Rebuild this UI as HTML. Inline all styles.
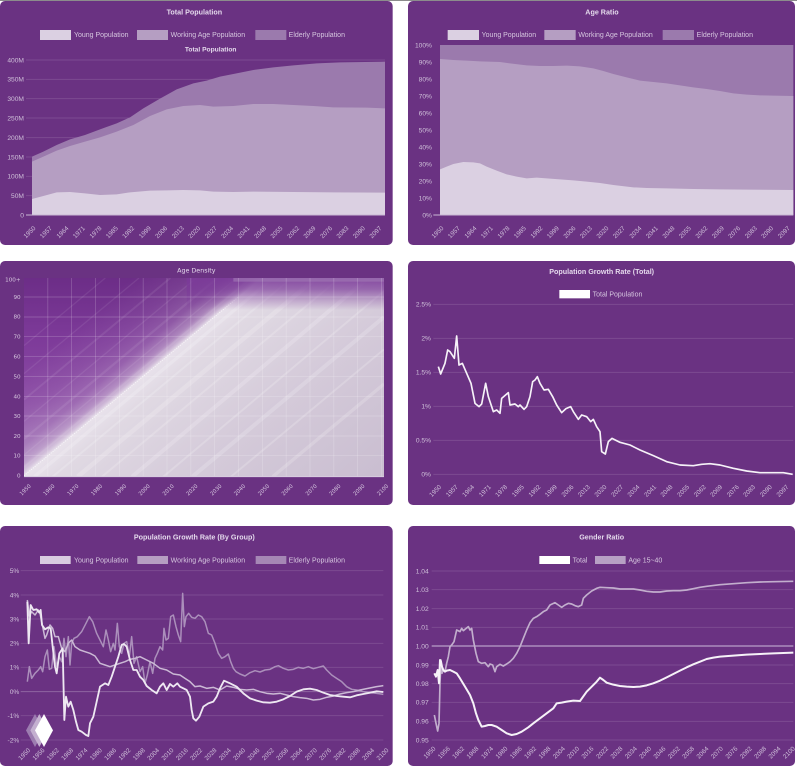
<!DOCTYPE html>
<html><head><meta charset="utf-8"><style>
html,body{margin:0;padding:0;background:#fff;width:800px;height:770px;overflow:hidden}
svg{display:block}
</style></head><body>
<svg width="800" height="770" viewBox="0 0 800 770" xmlns="http://www.w3.org/2000/svg" font-family="Liberation Sans, Arial, sans-serif">
<defs>
<linearGradient id="g3v" gradientUnits="userSpaceOnUse" x1="0" y1="84" x2="0" y2="680">
<stop offset="0" stop-color="#6c2d87"/><stop offset="0.3" stop-color="#7d3a99"/><stop offset="0.6" stop-color="#8a4aa4"/><stop offset="1" stop-color="#a274b8"/>
</linearGradient>
<linearGradient id="g3d" gradientUnits="userSpaceOnUse" x1="-312" y1="216" x2="584" y2="1292">
<stop offset="0" stop-color="#e8e2ea" stop-opacity="0"/>
<stop offset="0.25" stop-color="#e8e2ea" stop-opacity="0"/>
<stop offset="0.3286" stop-color="#e8e2ea" stop-opacity="0.08"/>
<stop offset="0.3786" stop-color="#e8e2ea" stop-opacity="0.2"/>
<stop offset="0.4071" stop-color="#e8e2ea" stop-opacity="0.45"/>
<stop offset="0.4214" stop-color="#eae5ec" stop-opacity="0.75"/>
<stop offset="0.4286" stop-color="#ebe6ed" stop-opacity="0.97"/>
<stop offset="0.4714" stop-color="#e0d9e3" stop-opacity="1"/>
<stop offset="0.6429" stop-color="#d5cbda" stop-opacity="1"/>
<stop offset="0.9286" stop-color="#c9bdd0" stop-opacity="1"/>
<stop offset="1" stop-color="#c6b9ce" stop-opacity="1"/>
</linearGradient>
<linearGradient id="g3t" gradientUnits="userSpaceOnUse" x1="0" y1="84" x2="0" y2="180">
<stop offset="0" stop-color="#7b3a99" stop-opacity="0.9"/>
<stop offset="0.35" stop-color="#7b3a99" stop-opacity="0.7"/>
<stop offset="0.7" stop-color="#7b3a99" stop-opacity="0.3"/>
<stop offset="1" stop-color="#7b3a99" stop-opacity="0"/>
</linearGradient>
<clipPath id="c3"><rect x="72" y="84" width="1080" height="596"/></clipPath>
</defs>
<rect width="800" height="770" fill="#ffffff"/>
<line x1="0" y1="0.5" x2="797" y2="0.5" stroke="#8c8c8c" stroke-width="1"/>

<!-- PANEL 1 -->
<g transform="translate(0,0) scale(0.333333)">
<rect x="0" y="3" width="1178" height="732" rx="15" fill="#6a3282"/>
<text x="583" y="43" text-anchor="middle" font-weight="bold" font-size="21.5" fill="#e4d9ec">Total Population</text>
<rect x="120" y="90" width="93" height="30" fill="#dbd0e2"/>
<rect x="411" y="90" width="93" height="30" fill="#b59ec2"/>
<rect x="766" y="90" width="93" height="30" fill="#9b7aad"/>
<g font-size="21" fill="#d6c6df">
<text x="222" y="111">Young Population</text>
<text x="512" y="111">Working Age Population</text>
<text x="866" y="111">Elderly Population</text>
</g>
<text x="632" y="155" text-anchor="middle" font-weight="bold" font-size="20" fill="#e4d9ec">Total Population</text>
<g stroke="#ffffff" stroke-opacity="0.12" stroke-width="3">
<line x1="78" y1="180" x2="1155" y2="180"/><line x1="78" y1="238" x2="1155" y2="238"/><line x1="78" y1="296" x2="1155" y2="296"/><line x1="78" y1="354" x2="1155" y2="354"/><line x1="78" y1="413" x2="1155" y2="413"/><line x1="78" y1="471" x2="1155" y2="471"/><line x1="78" y1="529" x2="1155" y2="529"/><line x1="78" y1="587" x2="1155" y2="587"/>
</g>
<polygon fill="#9b7aad" points="96,470 130,455 170,435 210,418 255,405 300,388 350,370 390,352 430,325 480,296 530,268 580,250 620,242 660,230 700,222 760,210 820,202 880,196 950,190 1020,187 1155,185 1155,645 96,645"/>
<polygon fill="#b59ec2" points="96,485 130,470 170,452 210,438 255,425 300,412 350,395 400,375 450,348 500,328 550,318 600,315 640,320 700,318 760,312 820,312 880,315 940,318 1000,322 1100,323 1155,325 1155,645 96,645"/>
<polygon fill="#dbd0e2" points="96,597 130,588 170,577 210,576 255,580 300,585 350,583 390,577 450,572 500,571 550,570 600,571 640,575 700,576 760,575 880,576 1000,577 1155,578 1155,645 96,645"/>
<line x1="78" y1="645" x2="1155" y2="645" stroke="#c9b8d4" stroke-width="3"/>
<g font-size="20" fill="#cfbfd9" text-anchor="end">
<text x="72" y="187">400M</text><text x="72" y="245">350M</text><text x="72" y="303">300M</text><text x="72" y="361">250M</text><text x="72" y="420">200M</text><text x="72" y="478">150M</text><text x="72" y="536">100M</text><text x="72" y="594">50M</text><text x="72" y="652">0</text>
</g>
<g font-size="19" fill="#cfbfd9" text-anchor="end">
<text transform="translate(108,686) rotate(-45)">1950</text><text transform="translate(157,686) rotate(-45)">1957</text><text transform="translate(207,686) rotate(-45)">1964</text><text transform="translate(256,686) rotate(-45)">1971</text><text transform="translate(306,686) rotate(-45)">1978</text><text transform="translate(355,686) rotate(-45)">1985</text><text transform="translate(404,686) rotate(-45)">1992</text><text transform="translate(454,686) rotate(-45)">1999</text><text transform="translate(503,686) rotate(-45)">2006</text><text transform="translate(553,686) rotate(-45)">2013</text><text transform="translate(602,686) rotate(-45)">2020</text><text transform="translate(652,686) rotate(-45)">2027</text><text transform="translate(701,686) rotate(-45)">2034</text><text transform="translate(750,686) rotate(-45)">2041</text><text transform="translate(800,686) rotate(-45)">2048</text><text transform="translate(849,686) rotate(-45)">2055</text><text transform="translate(899,686) rotate(-45)">2062</text><text transform="translate(948,686) rotate(-45)">2069</text><text transform="translate(998,686) rotate(-45)">2076</text><text transform="translate(1047,686) rotate(-45)">2083</text><text transform="translate(1096,686) rotate(-45)">2090</text><text transform="translate(1146,686) rotate(-45)">2097</text>
</g>
</g>

<!-- PANEL 2 -->
<g transform="translate(400,0) scale(0.333333)">
<rect x="24" y="3" width="1161" height="732" rx="15" fill="#6a3282"/>
<text x="606" y="43" text-anchor="middle" font-weight="bold" font-size="21.5" fill="#e4d9ec">Age Ratio</text>
<rect x="143" y="90" width="94" height="30" fill="#dbd0e2"/>
<rect x="433" y="90" width="94" height="30" fill="#b59ec2"/>
<rect x="788" y="90" width="94" height="30" fill="#9b7aad"/>
<g font-size="21" fill="#d6c6df">
<text x="245" y="111">Young Population</text>
<text x="535" y="111">Working Age Population</text>
<text x="890" y="111">Elderly Population</text>
</g>
<rect x="120" y="135" width="1060" height="510" fill="#9b7aad"/>
<polygon fill="#b59ec2" points="120,177 160,180 200,182 240,184 300,186 330,190 380,196 420,198 460,198 500,197 540,199 580,205 610,213 640,222 680,232 720,242 760,246 800,250 840,256 880,262 920,267 960,273 1000,280 1040,284 1080,286 1120,287 1180,288 1180,645 120,645"/>
<polygon fill="#dbd0e2" points="120,508 140,500 160,492 190,486 220,487 240,490 260,500 290,512 320,523 350,530 380,535 410,533 440,535 480,538 520,541 560,545 600,549 640,555 700,562 740,564 800,565 880,567 960,568 1040,569 1180,570 1180,645 120,645"/>
<line x1="100" y1="645" x2="1180" y2="645" stroke="#c9b8d4" stroke-width="3"/>
<g font-size="20" fill="#cfbfd9" text-anchor="end">
<text x="96" y="142">100%</text><text x="96" y="193">90%</text><text x="96" y="244">80%</text><text x="96" y="295">70%</text><text x="96" y="346">60%</text><text x="96" y="397">50%</text><text x="96" y="448">40%</text><text x="96" y="499">30%</text><text x="96" y="550">20%</text><text x="96" y="601">10%</text><text x="96" y="652">0%</text>
</g>
<g font-size="19" fill="#cfbfd9" text-anchor="end">
<text transform="translate(132,686) rotate(-45)">1950</text><text transform="translate(181,686) rotate(-45)">1957</text><text transform="translate(231,686) rotate(-45)">1964</text><text transform="translate(280,686) rotate(-45)">1971</text><text transform="translate(330,686) rotate(-45)">1978</text><text transform="translate(379,686) rotate(-45)">1985</text><text transform="translate(429,686) rotate(-45)">1992</text><text transform="translate(478,686) rotate(-45)">1999</text><text transform="translate(528,686) rotate(-45)">2006</text><text transform="translate(577,686) rotate(-45)">2013</text><text transform="translate(627,686) rotate(-45)">2020</text><text transform="translate(676,686) rotate(-45)">2027</text><text transform="translate(726,686) rotate(-45)">2034</text><text transform="translate(775,686) rotate(-45)">2041</text><text transform="translate(825,686) rotate(-45)">2048</text><text transform="translate(874,686) rotate(-45)">2055</text><text transform="translate(924,686) rotate(-45)">2062</text><text transform="translate(973,686) rotate(-45)">2069</text><text transform="translate(1022,686) rotate(-45)">2076</text><text transform="translate(1072,686) rotate(-45)">2083</text><text transform="translate(1121,686) rotate(-45)">2090</text><text transform="translate(1171,686) rotate(-45)">2097</text>
</g>
</g>

<!-- PANEL 3 -->
<g transform="translate(0,250) scale(0.333333)">
<rect x="0" y="33" width="1178" height="732" rx="15" fill="#6a3282"/>
<text x="589" y="68" text-anchor="middle" font-family="DejaVu Sans, sans-serif" font-size="19" fill="#e4d9ec">Age Density</text>
<g clip-path="url(#c3)">
<rect x="72" y="84" width="1080" height="596" fill="url(#g3v)"/>
<rect x="72" y="84" width="1080" height="596" fill="url(#g3d)"/>
<g stroke="#ffffff" stroke-opacity="0.08">
<line x1="72" y1="651" x2="753" y2="84" stroke-width="6"/>
<line x1="72" y1="615" x2="710" y2="84" stroke-width="4"/>
<line x1="72" y1="567" x2="652" y2="84" stroke-width="7"/>
<line x1="72" y1="514" x2="589" y2="84" stroke-width="4"/>
<line x1="72" y1="449" x2="511" y2="84" stroke-width="6"/>
<line x1="72" y1="371" x2="417" y2="84" stroke-width="4"/>
<line x1="72" y1="287" x2="316" y2="84" stroke-width="4"/>
</g>
<g stroke="#ffffff" stroke-opacity="0.18">
<line x1="103" y1="680" x2="819" y2="84" stroke-width="10"/>
<line x1="158" y1="680" x2="875" y2="84" stroke-width="6"/>
<line x1="233" y1="680" x2="949" y2="84" stroke-width="14"/>
<line x1="306" y1="680" x2="1019" y2="84" stroke-width="6"/>
<line x1="396" y1="680" x2="1105" y2="84" stroke-width="12"/>
<line x1="490" y1="680" x2="1152" y2="123" stroke-width="6"/>
<line x1="577" y1="680" x2="1152" y2="201" stroke-width="12"/>
<line x1="693" y1="680" x2="1152" y2="298" stroke-width="6"/>
<line x1="818" y1="680" x2="1152" y2="402" stroke-width="10"/>
</g>
<line x1="72" y1="677" x2="715" y2="141" stroke="#ffffff" stroke-opacity="0.75" stroke-width="3" stroke-dasharray="3 4"/>
<rect x="560" y="84" width="592" height="96" fill="url(#g3t)"/>
<rect x="700" y="84" width="452" height="11" fill="#a27bb6" fill-opacity="0.6"/>
</g>
<g stroke="#ffffff" stroke-opacity="0.25" stroke-width="2">
<line x1="143.5" y1="84" x2="143.5" y2="680"/><line x1="215" y1="84" x2="215" y2="680"/><line x1="286.5" y1="84" x2="286.5" y2="680"/><line x1="358" y1="84" x2="358" y2="680"/><line x1="429.5" y1="84" x2="429.5" y2="680"/><line x1="501" y1="84" x2="501" y2="680"/><line x1="572.5" y1="84" x2="572.5" y2="680"/><line x1="644" y1="84" x2="644" y2="680"/><line x1="715.5" y1="84" x2="715.5" y2="680"/><line x1="787" y1="84" x2="787" y2="680"/><line x1="858.5" y1="84" x2="858.5" y2="680"/><line x1="930" y1="84" x2="930" y2="680"/><line x1="1001.5" y1="84" x2="1001.5" y2="680"/><line x1="1073" y1="84" x2="1073" y2="680"/><line x1="1144.5" y1="84" x2="1144.5" y2="680"/>
<line x1="72" y1="617" x2="1152" y2="617"/><line x1="72" y1="558" x2="1152" y2="558"/><line x1="72" y1="498" x2="1152" y2="498"/><line x1="72" y1="439" x2="1152" y2="439"/><line x1="72" y1="379" x2="1152" y2="379"/><line x1="72" y1="320" x2="1152" y2="320"/><line x1="72" y1="260" x2="1152" y2="260"/><line x1="72" y1="201" x2="1152" y2="201"/><line x1="72" y1="141" x2="1152" y2="141"/>
</g>
<line x1="72" y1="680" x2="1152" y2="680" stroke="#d8cce0" stroke-width="3"/>
<g font-family="DejaVu Sans, sans-serif" font-size="17" fill="#d6c6df" text-anchor="end">
<text x="62" y="94">100+</text><text x="62" y="147">90</text><text x="62" y="206">80</text><text x="62" y="266">70</text><text x="62" y="326">60</text><text x="62" y="385">50</text><text x="62" y="445">40</text><text x="62" y="504">30</text><text x="62" y="564">20</text><text x="62" y="623">10</text><text x="62" y="683">0</text>
</g>
<g font-family="DejaVu Sans, sans-serif" font-size="16" fill="#d6c6df" text-anchor="end">
<text transform="translate(94,709) rotate(-45)">1950</text><text transform="translate(165,709) rotate(-45)">1960</text><text transform="translate(237,709) rotate(-45)">1970</text><text transform="translate(308,709) rotate(-45)">1980</text><text transform="translate(380,709) rotate(-45)">1990</text><text transform="translate(451,709) rotate(-45)">2000</text><text transform="translate(523,709) rotate(-45)">2010</text><text transform="translate(594,709) rotate(-45)">2020</text><text transform="translate(666,709) rotate(-45)">2030</text><text transform="translate(737,709) rotate(-45)">2040</text><text transform="translate(809,709) rotate(-45)">2050</text><text transform="translate(880,709) rotate(-45)">2060</text><text transform="translate(952,709) rotate(-45)">2070</text><text transform="translate(1023,709) rotate(-45)">2080</text><text transform="translate(1095,709) rotate(-45)">2090</text><text transform="translate(1166,709) rotate(-45)">2100</text>
</g>
</g>

<!-- PANEL 4 -->
<g transform="translate(400,250) scale(0.333333)">
<rect x="24" y="33" width="1161" height="732" rx="15" fill="#6a3282"/>
<text x="605" y="72" text-anchor="middle" font-weight="bold" font-size="21.5" fill="#e4d9ec">Population Growth Rate (Total)</text>
<rect x="478" y="120" width="92" height="25" fill="#ffffff"/>
<text x="578" y="140" font-size="21" fill="#d6c6df">Total Population</text>
<g stroke="#ffffff" stroke-opacity="0.12" stroke-width="3">
<line x1="100" y1="163" x2="1180" y2="163"/><line x1="100" y1="265" x2="1180" y2="265"/><line x1="100" y1="367" x2="1180" y2="367"/><line x1="100" y1="469" x2="1180" y2="469"/><line x1="100" y1="571" x2="1180" y2="571"/><line x1="100" y1="673" x2="1180" y2="673"/>
</g>
<g font-size="20" fill="#cfbfd9" text-anchor="end">
<text x="93" y="170">2.5%</text><text x="93" y="272">2%</text><text x="93" y="374">1.5%</text><text x="93" y="476">1%</text><text x="93" y="578">0.5%</text><text x="93" y="680">0%</text>
</g>
<polyline fill="none" stroke="#f6f2f8" stroke-width="5" stroke-linejoin="round" points="115,350 122,372 135,340 143,300 150,305 163,325 170,258 177,345 187,340 200,370 213,400 225,460 237,470 245,462 257,400 265,440 280,485 290,480 300,490 305,445 325,428 330,465 345,462 355,470 360,465 372,478 380,470 390,440 398,395 405,390 412,380 420,400 432,420 445,418 458,440 470,465 485,488 498,476 512,470 520,485 535,508 545,495 560,500 572,515 580,508 590,530 600,545 605,605 616,612 625,575 636,565 660,577 690,585 720,600 760,617 800,635 840,645 880,647 905,643 930,641 960,645 1000,655 1040,663 1080,668 1150,668 1178,673"/>
<g font-size="19" fill="#cfbfd9" text-anchor="end">
<text transform="translate(125,712) rotate(-45)">1950</text><text transform="translate(175,712) rotate(-45)">1957</text><text transform="translate(224,712) rotate(-45)">1964</text><text transform="translate(274,712) rotate(-45)">1971</text><text transform="translate(323,712) rotate(-45)">1978</text><text transform="translate(373,712) rotate(-45)">1985</text><text transform="translate(423,712) rotate(-45)">1992</text><text transform="translate(472,712) rotate(-45)">1999</text><text transform="translate(522,712) rotate(-45)">2006</text><text transform="translate(571,712) rotate(-45)">2013</text><text transform="translate(621,712) rotate(-45)">2020</text><text transform="translate(671,712) rotate(-45)">2027</text><text transform="translate(720,712) rotate(-45)">2034</text><text transform="translate(770,712) rotate(-45)">2041</text><text transform="translate(819,712) rotate(-45)">2048</text><text transform="translate(869,712) rotate(-45)">2055</text><text transform="translate(919,712) rotate(-45)">2062</text><text transform="translate(968,712) rotate(-45)">2069</text><text transform="translate(1018,712) rotate(-45)">2076</text><text transform="translate(1067,712) rotate(-45)">2083</text><text transform="translate(1117,712) rotate(-45)">2090</text><text transform="translate(1167,712) rotate(-45)">2097</text>
</g>
</g>

<!-- PANEL 5 -->
<g transform="translate(0,510) scale(0.333333)">
<rect x="0" y="48" width="1178" height="720" rx="15" fill="#6a3282"/>
<text x="583" y="88" text-anchor="middle" font-weight="bold" font-size="21.5" fill="#e4d9ec">Population Growth Rate (By Group)</text>
<rect x="120" y="138" width="92" height="24" fill="#d9cce0"/>
<rect x="412" y="138" width="92" height="24" fill="#b69ec2"/>
<rect x="767" y="138" width="92" height="24" fill="#a587b5"/>
<g font-size="21" fill="#d6c6df">
<text x="222" y="157">Young Population</text>
<text x="512" y="157">Working Age Population</text>
<text x="866" y="157">Elderly Population</text>
</g>
<g stroke="#ffffff" stroke-opacity="0.12" stroke-width="3">
<line x1="62" y1="182" x2="1150" y2="182"/><line x1="62" y1="255" x2="1150" y2="255"/><line x1="62" y1="327" x2="1150" y2="327"/><line x1="62" y1="400" x2="1150" y2="400"/><line x1="62" y1="472" x2="1150" y2="472"/><line x1="62" y1="617" x2="1150" y2="617"/><line x1="62" y1="690" x2="1150" y2="690"/>
</g>
<line x1="62" y1="545" x2="1150" y2="545" stroke="#ffffff" stroke-opacity="0.25" stroke-width="3"/>
<g font-size="20" fill="#cfbfd9" text-anchor="end">
<text x="58" y="189">5%</text><text x="58" y="262">4%</text><text x="58" y="334">3%</text><text x="58" y="407">2%</text><text x="58" y="479">1%</text><text x="58" y="552">0%</text><text x="58" y="624">-1%</text><text x="58" y="697">-2%</text>
</g>
<polyline fill="none" stroke="#ab8fbb" stroke-width="4.5" stroke-linejoin="round" points="82,515 88,470 95,505 105,490 115,480 122,470 128,485 135,440 142,420 148,478 155,475 162,410 170,470 178,440 185,455 192,385 198,440 205,380 210,465 215,400 222,385 232,380 245,365 258,340 268,320 278,335 290,370 300,390 310,410 318,360 325,390 332,425 340,400 345,420 352,340 358,410 365,430 372,400 380,395 388,440 395,380 402,460 410,440 420,485 428,470 435,520 442,495 450,455 458,490 465,445 472,430 480,410 488,420 492,355 498,390 505,385 512,320 520,315 528,350 535,375 542,395 548,250 553,350 558,320 566,310 575,322 585,325 595,315 605,320 615,335 625,370 635,375 645,400 655,430 665,445 675,440 685,432 692,455 700,475 708,485 720,492 735,498 750,488 765,482 780,486 795,480 810,478 825,470 835,467 850,475 865,480 880,478 895,472 910,475 925,470 940,476 955,472 970,468 980,480 995,495 1010,505 1025,515 1040,530 1055,538 1070,540 1090,545 1110,548 1130,550 1150,553"/>
<polyline fill="none" stroke="#cbb9d5" stroke-width="4.5" stroke-linejoin="round" points="82,270 88,318 95,305 105,315 115,300 120,310 128,350 135,385 140,375 150,345 158,355 165,380 175,380 185,415 195,425 205,400 215,390 225,410 240,420 255,425 270,430 285,438 300,460 315,465 330,470 345,465 360,460 375,455 390,448 405,445 420,440 440,450 460,460 480,475 500,480 520,492 540,495 555,505 570,515 585,530 600,528 620,535 640,532 660,540 680,528 700,532 720,538 740,540 760,538 780,545 800,550 820,552 840,550 860,555 880,560 900,563 920,565 940,570 960,568 980,562 1000,558 1020,552 1040,548 1060,545 1080,540 1100,536 1130,530 1150,527"/>
<polyline fill="none" stroke="#eee8f2" stroke-width="5.5" stroke-linejoin="round" points="82,275 86,400 92,285 100,300 110,298 118,308 122,300 126,345 135,358 145,352 152,355 158,410 165,470 170,490 178,430 188,415 193,630 198,560 205,590 212,575 220,600 228,635 235,660 245,665 258,675 265,678 270,640 280,620 290,575 300,530 315,520 325,525 335,500 345,470 355,440 365,405 372,402 380,410 390,450 400,480 410,480 420,500 430,510 440,528 455,540 470,550 480,530 490,520 500,540 510,522 520,530 532,520 540,530 550,535 560,540 570,560 575,600 580,625 588,632 598,620 610,590 625,580 640,575 650,560 660,535 672,512 690,520 710,530 730,550 750,565 770,572 790,577 810,578 830,575 850,568 870,558 890,545 910,538 930,536 950,540 970,548 990,555 1010,558 1030,560 1050,562 1070,556 1090,552 1110,548 1130,544 1150,546"/>
<polygon points="105,612 132,661 105,711 78,661" fill="#9c7cb0"/>
<polygon points="118,612 145,661 118,711 91,661" fill="#c4b0d0"/>
<polygon points="132,612 159,661 132,711 105,661" fill="#ffffff"/>
<g font-size="19" fill="#cfbfd9" text-anchor="end">
<text transform="translate(92,722) rotate(-45)">1950</text><text transform="translate(135,722) rotate(-45)">1956</text><text transform="translate(178,722) rotate(-45)">1962</text><text transform="translate(221,722) rotate(-45)">1968</text><text transform="translate(264,722) rotate(-45)">1974</text><text transform="translate(307,722) rotate(-45)">1980</text><text transform="translate(350,722) rotate(-45)">1986</text><text transform="translate(393,722) rotate(-45)">1992</text><text transform="translate(436,722) rotate(-45)">1998</text><text transform="translate(479,722) rotate(-45)">2004</text><text transform="translate(522,722) rotate(-45)">2010</text><text transform="translate(565,722) rotate(-45)">2016</text><text transform="translate(608,722) rotate(-45)">2022</text><text transform="translate(651,722) rotate(-45)">2028</text><text transform="translate(694,722) rotate(-45)">2034</text><text transform="translate(737,722) rotate(-45)">2040</text><text transform="translate(780,722) rotate(-45)">2046</text><text transform="translate(823,722) rotate(-45)">2052</text><text transform="translate(866,722) rotate(-45)">2058</text><text transform="translate(909,722) rotate(-45)">2064</text><text transform="translate(952,722) rotate(-45)">2070</text><text transform="translate(995,722) rotate(-45)">2076</text><text transform="translate(1038,722) rotate(-45)">2082</text><text transform="translate(1081,722) rotate(-45)">2088</text><text transform="translate(1124,722) rotate(-45)">2094</text><text transform="translate(1167,722) rotate(-45)">2100</text>
</g>
</g>

<!-- PANEL 6 -->
<g transform="translate(400,510) scale(0.333333)">
<rect x="24" y="48" width="1161" height="720" rx="15" fill="#6a3282"/>
<text x="605" y="88" text-anchor="middle" font-weight="bold" font-size="21.5" fill="#e4d9ec">Gender Ratio</text>
<rect x="418" y="138" width="92" height="24" fill="#ffffff"/>
<rect x="585" y="138" width="92" height="24" fill="#b7a0c4"/>
<g font-size="21" fill="#d6c6df">
<text x="518" y="157">Total</text>
<text x="685" y="157">Age 15~40</text>
</g>
<g stroke="#ffffff" stroke-opacity="0.12" stroke-width="3">
<line x1="95" y1="183" x2="1180" y2="183"/><line x1="95" y1="239" x2="1180" y2="239"/><line x1="95" y1="296" x2="1180" y2="296"/><line x1="95" y1="352" x2="1180" y2="352"/><line x1="95" y1="465" x2="1180" y2="465"/><line x1="95" y1="521" x2="1180" y2="521"/><line x1="95" y1="577" x2="1180" y2="577"/><line x1="95" y1="634" x2="1180" y2="634"/><line x1="95" y1="690" x2="1180" y2="690"/>
</g>
<line x1="95" y1="408" x2="1180" y2="408" stroke="#b9a0c8" stroke-width="3.5"/>
<g font-size="20" fill="#cfbfd9" text-anchor="end">
<text x="86" y="190">1.04</text><text x="86" y="246">1.03</text><text x="86" y="303">1.02</text><text x="86" y="359">1.01</text><text x="86" y="415">1.00</text><text x="86" y="472">0.99</text><text x="86" y="528">0.98</text><text x="86" y="584">0.97</text><text x="86" y="641">0.96</text><text x="86" y="697">0.95</text>
</g>
<polyline fill="none" stroke="#c2aecd" stroke-width="5" stroke-linejoin="round" points="103,615 108,640 113,663 117,640 120,520 123,450 126,490 130,480 135,485 140,460 145,440 150,410 155,405 162,395 170,360 180,365 185,355 190,362 195,358 205,350 210,360 215,355 220,390 228,430 235,455 245,460 255,458 265,470 270,462 278,465 285,485 290,470 300,463 310,468 320,462 330,455 340,445 350,430 360,410 370,385 380,360 390,338 400,325 410,320 420,313 430,305 440,300 450,285 465,278 475,285 485,292 495,285 505,280 515,282 525,287 535,290 545,285 550,265 560,255 575,243 590,235 600,232 620,233 640,234 660,237 680,237 700,237 720,240 740,244 760,246 780,246 800,243 820,242 840,242 860,240 880,236 900,232 920,229 960,224 1000,221 1040,218 1080,216 1120,215 1180,214"/>
<polyline fill="none" stroke="#f6f2f8" stroke-width="6" stroke-linejoin="round" points="103,490 108,500 113,480 117,520 120,450 123,455 126,470 130,480 135,485 140,482 150,480 160,485 170,490 180,505 195,530 210,555 220,580 228,610 235,630 245,650 255,648 265,645 275,645 290,650 305,660 320,670 335,675 350,672 365,665 385,652 400,640 420,625 440,610 460,595 470,580 485,578 500,575 520,572 540,573 560,545 575,530 590,515 600,503 610,510 620,518 640,524 660,528 680,530 700,531 720,530 740,526 760,520 780,512 800,502 820,492 840,482 860,472 880,463 900,455 920,447 940,443 960,440 1000,437 1040,434 1080,432 1120,430 1180,428"/>
<g font-size="19" fill="#cfbfd9" text-anchor="end">
<text transform="translate(108,717) rotate(-45)">1950</text><text transform="translate(151,717) rotate(-45)">1956</text><text transform="translate(194,717) rotate(-45)">1962</text><text transform="translate(237,717) rotate(-45)">1968</text><text transform="translate(281,717) rotate(-45)">1974</text><text transform="translate(324,717) rotate(-45)">1980</text><text transform="translate(367,717) rotate(-45)">1986</text><text transform="translate(410,717) rotate(-45)">1992</text><text transform="translate(453,717) rotate(-45)">1998</text><text transform="translate(496,717) rotate(-45)">2004</text><text transform="translate(539,717) rotate(-45)">2010</text><text transform="translate(582,717) rotate(-45)">2016</text><text transform="translate(626,717) rotate(-45)">2022</text><text transform="translate(669,717) rotate(-45)">2028</text><text transform="translate(712,717) rotate(-45)">2034</text><text transform="translate(755,717) rotate(-45)">2040</text><text transform="translate(798,717) rotate(-45)">2046</text><text transform="translate(841,717) rotate(-45)">2052</text><text transform="translate(884,717) rotate(-45)">2058</text><text transform="translate(927,717) rotate(-45)">2064</text><text transform="translate(970,717) rotate(-45)">2070</text><text transform="translate(1014,717) rotate(-45)">2076</text><text transform="translate(1057,717) rotate(-45)">2082</text><text transform="translate(1100,717) rotate(-45)">2088</text><text transform="translate(1143,717) rotate(-45)">2094</text><text transform="translate(1186,717) rotate(-45)">2100</text>
</g>
</g>
</svg>
</body></html>
